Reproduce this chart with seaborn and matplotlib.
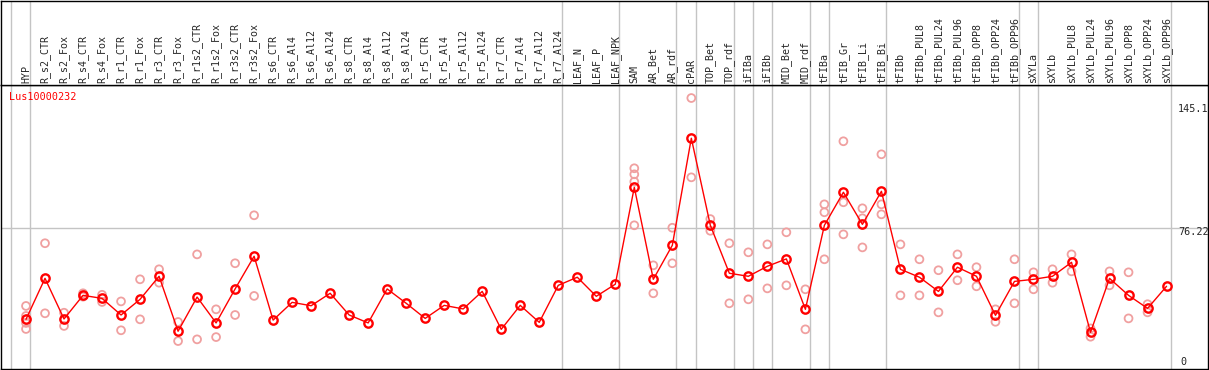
import pandas as pd
import seaborn as sns
import matplotlib.pyplot as plt

# sample names (in plotting order)
samples = [
    'HYP', 'R_s2_CTR', 'R_s2_Fox', 'R_s4_CTR', 'R_s4_Fox', 'R_r1_CTR', 'R_r1_Fox',
    'R_r3_CTR', 'R_r3_Fox', 'R_r1s2_CTR', 'R_r1s2_Fox', 'R_r3s2_CTR', 'R_r3s2_Fox',
    'R_s6_CTR', 'R_s6_Al4', 'R_s6_Al12', 'R_s6_Al24', 'R_s8_CTR', 'R_s8_Al4',
    'R_s8_Al12', 'R_s8_Al24', 'R_r5_CTR', 'R_r5_Al4', 'R_r5_Al12', 'R_r5_Al24',
    'R_r7_CTR', 'R_r7_Al4', 'R_r7_Al12', 'R_r7_Al24', 'LEAF_N', 'LEAF_P', 'LEAF_NPK',
    'SAM', 'AR_Bet', 'AR_rdf', 'cPAR', 'TOP_Bet', 'TOP_rdf', 'iFIBa', 'iFIBb',
    'MID_Bet', 'MID_rdf', 'tFIBa', 'tFIB_Gr', 'tFIB_Li', 'tFIB_Bi', 'tFIBb',
    'tFIBb_PUL8', 'tFIBb_PUL24', 'tFIBb_PUL96', 'tFIBb_OPP8', 'tFIBb_OPP24',
    'tFIBb_OPP96', 'sXYLa', 'sXYLb', 'sXYLb_PUL8', 'sXYLb_PUL24', 'sXYLb_PUL96',
    'sXYLb_OPP8', 'sXYLb_OPP24', 'sXYLb_OPP96',
]

# mean expression per sample (estimated)
mean_vals = [
    27.9, 49.6, 28.1, 40.6, 39.0, 30.2, 38.5, 50.7, 21.6, 39.7, 26.0, 44.0, 61.3,
    27.5, 36.9, 35.1, 41.7, 30.2, 26.0, 44.0, 36.4, 28.4, 35.3, 33.4, 42.7,
    22.6, 35.3, 26.3, 45.9, 50.2, 40.1, 46.5,
    97.8, 49.1, 67.1, 123.8, 77.7, 52.3, 50.7, 56.0, 59.9, 33.2,
    77.7, 95.2, 78.2, 95.7, 54.4, 50.2, 42.7, 55.5, 50.7, 30.0, 48.0,
    49.1, 50.7, 58.1, 21.0, 49.6, 40.6, 33.7, 45.4,
]

# individual replicates (long format)
rep_samples = (
    ['HYP'] * 4 + ['R_s2_CTR'] * 2 + ['R_s2_Fox'] * 2 + ['R_s4_CTR'] * 2 +
    ['R_s4_Fox'] * 2 + ['R_r1_CTR'] * 2 + ['R_r1_Fox'] * 2 + ['R_r3_CTR'] * 2 +
    ['R_r3_Fox'] * 2 + ['R_r1s2_CTR'] * 2 + ['R_r1s2_Fox'] * 2 +
    ['R_r3s2_CTR'] * 2 + ['R_r3s2_Fox'] * 2 + ['SAM'] * 4 + ['AR_Bet'] * 2 +
    ['AR_rdf'] * 2 + ['cPAR'] * 2 + ['TOP_Bet'] * 2 + ['TOP_rdf'] * 2 +
    ['iFIBa'] * 2 + ['iFIBb'] * 2 + ['MID_Bet'] * 2 + ['MID_rdf'] * 2 +
    ['tFIBa'] * 3 + ['tFIB_Gr'] * 3 + ['tFIB_Li'] * 3 + ['tFIB_Bi'] * 3 +
    ['tFIBb'] * 2 + ['tFIBb_PUL8'] * 2 + ['tFIBb_PUL24'] * 2 +
    ['tFIBb_PUL96'] * 2 + ['tFIBb_OPP8'] * 2 + ['tFIBb_OPP24'] * 2 +
    ['tFIBb_OPP96'] * 2 + ['sXYLa'] * 2 + ['sXYLb'] * 2 + ['sXYLb_PUL8'] * 2 +
    ['sXYLb_PUL24'] * 2 + ['sXYLb_PUL96'] * 2 + ['sXYLb_OPP8'] * 2 +
    ['sXYLb_OPP24'] * 2
)
rep_vals = [
    35.0, 29.7, 26.0, 22.8, 68.2, 31.1, 31.4, 24.4, 41.7, 39.9,
    40.9, 37.1, 37.4, 22.1, 49.1, 27.9, 54.4, 47.3,
    26.5, 16.4, 62.3, 17.3, 33.2, 18.5,
    57.6, 30.2, 83.0, 40.3, 107.9, 104.7, 100.8, 77.7, 56.5, 41.7,
    76.4, 57.6, 145.1, 103.1, 81.0, 74.8, 68.2, 36.4,
    63.4, 38.5, 67.6, 44.3, 74.0, 45.9, 43.8, 22.6,
    88.8, 84.6, 59.7, 122.2, 89.9, 72.9, 86.7, 81.4, 66.0, 115.3, 88.8, 83.5,
    67.6, 40.6, 59.7, 40.6, 53.9, 31.6,
    62.3, 48.6, 55.5, 45.4, 33.2, 26.6,
    59.7, 36.4, 52.8, 43.8, 54.4, 47.3, 62.3, 53.3,
    23.1, 18.7, 53.3, 45.9, 52.8, 28.4,
    35.9, 31.6,
]

# first sample of each tissue group
group_starts = ['HYP', 'R_s2_CTR', 'LEAF_N', 'SAM', 'cPAR', 'TOP_Bet', 'iFIBa',
                'iFIBb', 'MID_Bet', 'tFIBa', 'tFIB_Gr', 'tFIBb', 'sXYLa', 'sXYLb']

gene = 'Lus10000232'
y_max = 145.1
y_mid = 76.22

df = pd.DataFrame({'sample': samples, 'mean': mean_vals})
df['pos'] = range(len(df))
reps = pd.DataFrame({'sample': rep_samples, 'value': rep_vals})
reps['pos'] = reps['sample'].map({s: i for i, s in enumerate(samples)})

sns.set_style('white')
plt.rcParams['font.family'] = ['DejaVu Sans Mono', 'DejaVu Sans']

fig = plt.figure(figsize=(12.09, 3.70), dpi=100)
W, H = 1209, 370
ax = fig.add_axes([1 / W, 1 / H, 1207 / W, 284 / H])
hdr = fig.add_axes([1 / W, 285 / H, 1207 / W, 84 / H], sharex=ax)

ax.set_xlim(-1.315, 62.18)
ax.set_ylim(1.6, 152.0)
hdr.set_ylim(0, 1)

# separators and gridline
seps = [samples.index(s) - 0.78 for s in group_starts] + [len(samples) - 0.78]
for a in (ax, hdr):
    for s in seps:
        a.axvline(s, color='#c4c4c4', lw=1, zorder=0)
ax.axhline(y_mid, color='#c4c4c4', lw=1, zorder=0)

sns.scatterplot(data=reps, x='pos', y='value', ax=ax, marker='o', s=32,
                facecolor='none', edgecolor='#f0a0a0', linewidth=1.3, zorder=2,
                legend=False)
sns.lineplot(data=df, x='pos', y='mean', ax=ax, color='red', lw=1,
             marker='o', markersize=6, markerfacecolor='none',
             markeredgecolor='red', markeredgewidth=1.7, zorder=3)

ax.text(-0.9, 145.7, gene, color='red', fontsize=7.3, ha='left', va='center')
ax.text(60.6, 139.3, f'{y_max:g}', fontsize=7.3, ha='left', va='center')
ax.text(60.6, 74.2, f'{y_mid:g}', fontsize=7.3, ha='left', va='center')
ax.text(60.75, 5.3, '0', fontsize=7.3, ha='left', va='center')

for i, name in enumerate(samples):
    hdr.text(i, 0.025, name, rotation=90, ha='center', va='bottom', fontsize=7.2)

for a in (ax, hdr):
    a.set_xticks([])
    a.set_yticks([])
    a.set_xlabel('')
    a.set_ylabel('')
    for sp in a.spines.values():
        sp.set_visible(True)
        sp.set_color('black')
        sp.set_linewidth(1)

fig.savefig('out.png', dpi=100)
